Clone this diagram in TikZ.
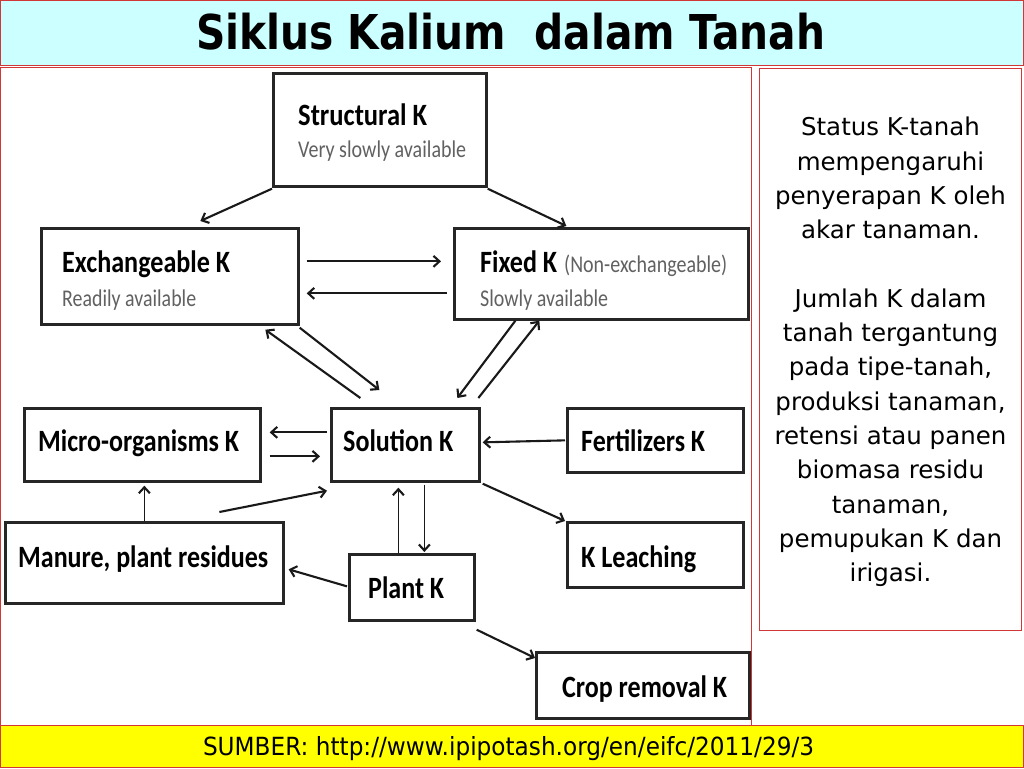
\documentclass[tikz,border=0pt]{standalone}
\usepackage{graphicx}
\usepackage{fontspec}
\setmainfont{DejaVu Sans}
\newfontfamily\calib{Carlito}
\usetikzlibrary{arrows.meta,calc}
\definecolor{bred}{RGB}{210,55,55}
\definecolor{titlefill}{RGB}{204,255,255}
\definecolor{barfill}{RGB}{255,255,0}
\newcommand\fitto[2]{\sbox0{#2}\scalebox{\fpeval{(#1)/(\wd0)}}[1]{\usebox0}}
\newcommand\bl[2]{\fitto{#1}{\calib\bfseries\fontsize{31}{31}\selectfont #2}}
\newcommand\gl[2]{\fitto{#1}{\calib\fontsize{24}{24}\selectfont\color{black!62}#2}}
\begin{document}
\begin{tikzpicture}[x=1pt,y=-1pt,
  panel/.style={draw=bred,line width=1pt},
  kbox/.style={draw=black!85,line width=2.7pt,anchor=north west,inner sep=0pt},
  klab/.style={anchor=base west,inner sep=0pt},
  flow/.style={line width=2.1pt,black!90,-{Straight Barb[length=6pt,width=11pt,line width=2.1pt]}},
  thin flow/.style={flow,line width=1.7pt}]
\useasboundingbox (0,0) rectangle (1024,768);
% panels
\path[panel,fill=titlefill] (0.5,0.5) rectangle (1023.5,65);
\path[panel,fill=white] (0.5,67) rectangle (751,725);
\path[panel,fill=white] (759,68) rectangle (1021.5,630);
\path[panel,fill=barfill] (0.5,725) rectangle (1023.5,767.5);
% title
\node[anchor=base,inner sep=0pt] (title) at (510.5,49)
  {\fitto{629}{\bfseries\fontsize{48}{48}\selectfont Siklus Kalium\ \ dalam Tanah}};
% source
\node[anchor=base,inner sep=0pt] (src) at (508.5,755)
  {\fitto{611}{\fontsize{25}{25}\selectfont SUMBER: http://www.ipipotash.org/en/eifc/2011/29/3}};
% right text
\node[anchor=north,inner sep=0pt,align=center,font={\fontsize{24.5}{34.3}\selectfont}] (info) at (890.5,117)
  {Status K-tanah\\mempengaruhi\\penyerapan K oleh\\akar tanaman.\\[34.3pt]
   Jumlah K dalam\\tanah tergantung\\pada tipe-tanah,\\produksi tanaman,\\retensi atau panen\\biomasa residu\\tanaman,\\pemupukan K dan\\irigasi.};
% boxes
\node[kbox,minimum width=213pt,minimum height=113pt] (struct) at (272,72) {};
\node[kbox,minimum width=257pt,minimum height=96pt] (exch) at (40,227) {};
\node[kbox,minimum width=294pt,minimum height=91pt] (fixed) at (453,227) {};
\node[kbox,minimum width=236pt,minimum height=73pt] (micro) at (23,407) {};
\node[kbox,minimum width=148pt,minimum height=73pt] (sol) at (330,407) {};
\node[kbox,minimum width=176pt,minimum height=64pt] (fert) at (566,407) {};
\node[kbox,minimum width=278pt,minimum height=81pt] (manure) at (4,521) {};
\node[kbox,minimum width=125pt,minimum height=66pt] (plant) at (348,553) {};
\node[kbox,minimum width=176pt,minimum height=65pt] (leach) at (566,521) {};
\node[kbox,minimum width=213pt,minimum height=66pt] (crop) at (535,651) {};
% labels
\node[klab] (lstruct) at (298,125) {\bl{129}{Structural K}};
\node[klab] (sstruct) at (298,157) {\gl{168}{Very slowly available}};
\node[klab] (lexch) at (62,272) {\bl{168}{Exchangeable K}};
\node[klab] (sexch) at (62,306) {\gl{134}{Readily available}};
\node[klab] (lfixed) at (480,272) {\bl{77}{Fixed K}};
\node[klab] (nfixed) at (564,272) {\gl{163}{(Non-exchangeable)}};
\node[klab] (sfixed) at (480,306) {\gl{128}{Slowly available}};
\node[klab] (lmicro) at (38,451) {\bl{201}{Micro-organisms K}};
\node[klab] (lsol) at (343,451) {\bl{110}{Solution K}};
\node[klab] (lfert) at (581,451) {\bl{124}{Fertilizers K}};
\node[klab] (lmanure) at (18,567) {\bl{250}{Manure, plant residues}};
\node[klab] (lplant) at (368,598) {\bl{76}{Plant K}};
\node[klab] (lleach) at (581,567) {\bl{115}{K Leaching}};
\node[klab] (lcrop) at (562,697) {\bl{165}{Crop removal K}};
% connectors
\draw[flow] ([shift={(0,1)}]struct.south west) -- ([shift={(30.5,-6)}]exch.north);
\draw[flow] ([shift={(0,1)}]struct.south east) -- ([shift={(-35,-1)}]fixed.north);
\draw[flow] ([shift={(7,-15)}]exch.east) -- ([shift={(-12,-12.5)}]fixed.west);
\draw[flow] ([shift={(-6,19.5)}]fixed.west) -- ([shift={(7,17)}]exch.east);
\draw[flow] ([shift={(-45,-9)}]sol.north) -- ([shift={(95.5,4)}]exch.south);
\draw[flow] ([shift={(0,2)}]exch.south east) -- ([shift={(-26,-17)}]sol.north);
\draw[flow] ([shift={(-86,0)}]fixed.south) -- ([shift={(52,-9)}]sol.north);
\draw[flow] ([shift={(73,-9)}]sol.north) -- ([shift={(-62,0)}]fixed.south);
\draw[flow] ([shift={(-3,-12.5)}]sol.west) -- ([shift={(8,-12.5)}]micro.east);
\draw[flow] ([shift={(8,11.5)}]micro.east) -- ([shift={(-10,11.5)}]sol.west);
\draw[flow] ([shift={(-1,0)}]fert.west) -- ([shift={(2,-2.5)}]sol.east);
\draw[flow] ([shift={(75,-9)}]manure.north) -- ([shift={(-3,8)}]sol.south west);
\draw[thin flow] (manure.north) -- ([shift={(2,3)}]micro.south);
\draw[flow] ([shift={(2,1)}]sol.south east) -- ([shift={(-1,0)}]leach.north west);
\draw[thin flow] ([shift={(-13.5,0)}]plant.north) -- ([shift={(-7,5)}]sol.south);
\draw[thin flow] ([shift={(19,2)}]sol.south) -- ([shift={(12.5,-1)}]plant.north);
\draw[flow] ([shift={(-1,-1)}]plant.west) -- ([shift={(4,6.5)}]manure.east);
\draw[flow] ([shift={(1,8)}]plant.south east) -- ([shift={(0,7)}]crop.north west);
\end{tikzpicture}
\end{document}
